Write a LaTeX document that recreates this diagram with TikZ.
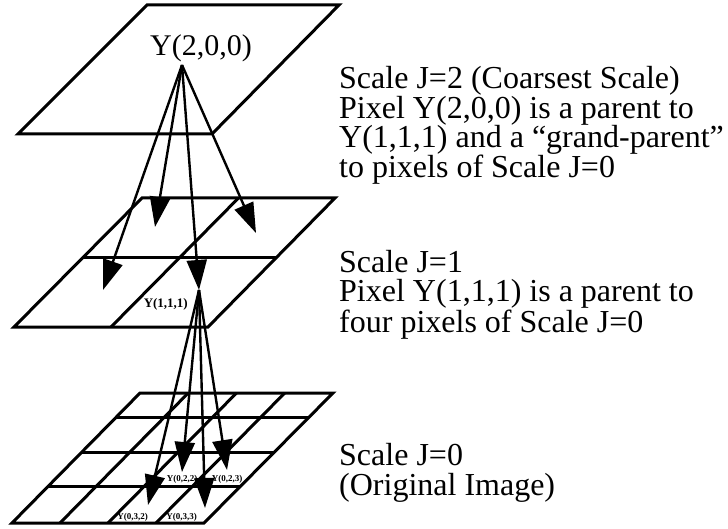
\documentclass[tikz,border=0pt]{standalone}
\usepackage{fontspec}
\setmainfont{Liberation Serif}
\usetikzlibrary{arrows.meta, positioning, calc}

\begin{document}
\begin{tikzpicture}[
    x=1pt, y=-1pt,
    plane/.style={draw, line width=3pt},
    arrow/.style={-{Triangle[length=30pt, width=20pt]}, line width=2.4pt, color=#1},
    caption/.style={anchor=base west, align=left, inner sep=0pt, font=\fontsize{32}{29.3}\selectfont},
    pixlabel/.style={inner sep=0pt, font=\bfseries\fontsize{#1}{#1}\selectfont},
]
    \useasboundingbox (0,0) rectangle (728,529);

    % Scale J=2
    \coordinate (top-nw) at (147,5);
    \coordinate (top-ne) at (339,5);
    \coordinate (top-se) at (212,134);
    \coordinate (top-sw) at (18,134);
    \draw[plane] (top-nw) -- (top-ne) -- (top-se) -- (top-sw) -- cycle;
    \node[anchor=base, inner sep=0pt, font=\fontsize{30}{30}\selectfont] (y200) at (201,56) {Y(2,0,0)};
    \coordinate (p200) at (182,65);

    % Scale J=1
    \coordinate (mid-nw) at (142,198);
    \coordinate (mid-ne) at (335,198);
    \coordinate (mid-se) at (208,327);
    \coordinate (mid-sw) at (14,327);
    \draw[plane] (mid-nw) -- (mid-ne) -- (mid-se) -- (mid-sw) -- cycle;
    \draw[plane] ($(mid-nw)!.5!(mid-ne)$) -- ($(mid-sw)!.5!(mid-se)$);
    \draw[plane] ($(mid-nw)!.465!(mid-sw)$) -- ($(mid-ne)!.465!(mid-se)$);
    \coordinate (p100) at (155,227);
    \coordinate (p101) at (256,233);
    \coordinate (p110) at (103,290);
    \coordinate (p111) at (199,290);
    \node[pixlabel=13, below left=8pt and 11pt of p111] (y111) {Y(1,1,1)};

    % Scale J=0
    \coordinate (bot-nw) at (140,393);
    \coordinate (bot-ne) at (333,393);
    \coordinate (bot-se) at (204,523);
    \coordinate (bot-sw) at (12,523);
    \draw[plane] (bot-nw) -- (bot-ne) -- (bot-se) -- (bot-sw) -- cycle;
    \foreach \u in {0.25,0.5,0.75}
        \draw[plane] ($(bot-nw)!\u!(bot-ne)$) -- ($(bot-sw)!\u!(bot-se)$);
    \foreach \v in {0.185,0.454,0.723}
        \draw[plane] ($(bot-nw)!\v!(bot-sw)$) -- ($(bot-ne)!\v!(bot-se)$);
    \coordinate (p022) at (182,472);
    \coordinate (p023) at (227,470);
    \coordinate (p032) at (148,505);
    \coordinate (p033) at (205,508);
    \node[pixlabel=9, below=3pt of p022] (y022) {Y(0,2,2)};
    \node[pixlabel=9, below=5pt of p023] (y023) {Y(0,2,3)};
    \node[pixlabel=9, below left=8pt and 0pt of p032] (y032) {Y(0,3,2)};
    \node[pixlabel=9, below left=5pt and 8pt of p033] (y033) {Y(0,3,3)};

    % Arrows
    \draw[arrow=black] (p200) -- (p100);
    \draw[arrow=black] (p200) -- (p101);
    \draw[arrow=black] (p200) -- (p110);
    \draw[arrow=black] (p200) -- (p111);
    \draw[arrow=black] (p111) -- (p022);
    \draw[arrow=black] (p111) -- (p023);
    \draw[arrow=black] (p111) -- (p032);
    \draw[arrow=black] (p111) -- (p033);

    % Captions
    \node[caption] (cap2) at (339,178) {Scale J=2 (Coarsest Scale)\\Pixel Y(2,0,0) is a parent to\\Y(1,1,1) and a “grand-parent”\\to pixels of Scale J=0};
    \node[caption] (cap1) at (339,332) {Scale J=1\\Pixel Y(1,1,1) is a parent to\\four pixels of Scale J=0};
    \node[caption] (cap0) at (339,495) {Scale J=0\\(Original Image)};
\end{tikzpicture}
\end{document}
